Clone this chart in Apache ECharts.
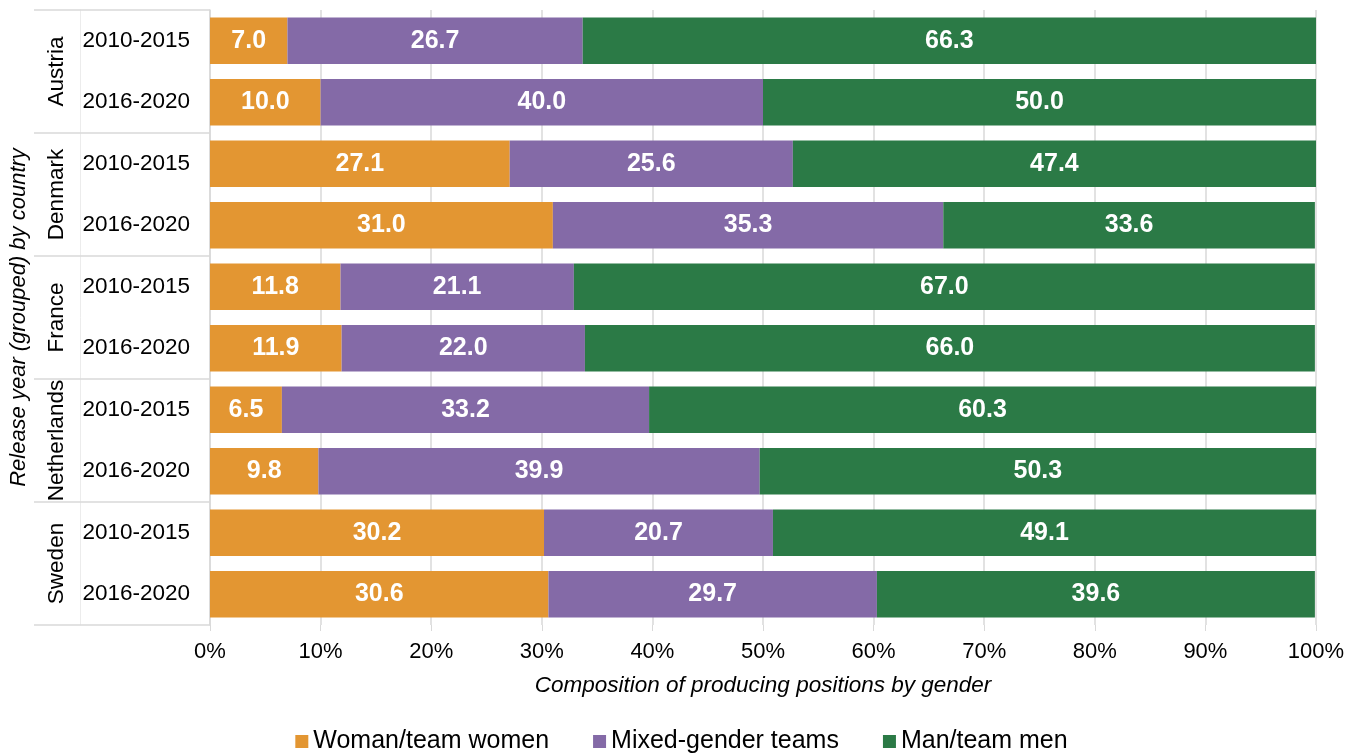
<!DOCTYPE html>
<html>
<head>
<meta charset="utf-8">
<title>Producing positions by gender</title>
<script src="https://cdn.jsdelivr.net/npm/echarts@6/dist/echarts.min.js"></script>
<style>
	html, body { margin: 0; padding: 0; background: #fff; }
	#chart { width: 1363px; height: 754px; }
</style>
</head>
<body>
<div id="chart"></div>
<script>
	// data
	var countries = ["Austria", "Denmark", "France", "Netherlands", "Sweden"];
	var periods = ["2010-2015", "2016-2020", "2010-2015", "2016-2020", "2010-2015",
		"2016-2020", "2010-2015", "2016-2020", "2010-2015", "2016-2020"];
	var women = [7.0, 10.0, 27.1, 31.0, 11.8, 11.9, 6.5, 9.8, 30.2, 30.6];
	var mixed = [26.7, 40.0, 25.6, 35.3, 21.1, 22.0, 33.2, 39.9, 20.7, 29.7];
	var men = [66.3, 50.0, 47.4, 33.6, 67.0, 66.0, 60.3, 50.3, 49.1, 39.6];
	var seriesNames = ["Woman/team women", "Mixed-gender teams", "Man/team men"];
	var colors = ["#E39632", "#846AA7", "#2B7A46"];

	var font = "Liberation Sans, Arial, sans-serif";
	var lineColor = "#d9d9d9";

	function makeSeries(name, data) {
		return {
			name: name,
			type: "bar",
			stack: "total",
			barWidth: "76%",
			data: data,
			label: {
				show: true,
				position: "inside",
				color: "#fff",
				fontWeight: "bold",
				fontSize: 25,
				fontFamily: font,
				formatter: function (p) {
					return p.value.toFixed(1);
				}
			}
		};
	}

	var option = {
		color: colors,
		animation: false,
		textStyle: { fontFamily: font },
		grid: {
			left: 210,
			right: 47,
			top: 10,
			bottom: 129
		},
		legend: {
			top: 724,
			left: "center",
			icon: "rect",
			itemWidth: 13,
			itemHeight: 13,
			itemGap: 44,
			textStyle: { fontSize: 25, color: "#000", fontFamily: font },
			data: seriesNames
		},
		xAxis: {
			type: "value",
			min: 0,
			max: 100,
			interval: 10,
			name: "Composition of producing positions by gender",
			nameLocation: "middle",
			nameGap: 49,
			nameTextStyle: { fontSize: 22.5, fontStyle: "italic", color: "#000", fontFamily: font },
			axisLine: { show: false },
			axisTick: { show: true, length: 6, lineStyle: { color: lineColor } },
			splitLine: { show: true, lineStyle: { color: lineColor, width: 1.5 } },
			axisLabel: {
				fontSize: 22,
				color: "#000",
				margin: 16,
				formatter: "{value}%"
			}
		},
		yAxis: [
			{
				type: "category",
				data: periods,
				inverse: true,
				position: "left",
				axisLine: { show: true, lineStyle: { color: lineColor, width: 1.5 } },
				axisTick: {
					show: true,
					interval: 1,
					length: 130,
					lineStyle: { color: lineColor, width: 1.5 }
				},
				axisLabel: { fontSize: 22.5, color: "#000", margin: 20 }
			},
			{
				type: "category",
				data: countries,
				inverse: true,
				position: "left",
				offset: 130,
				name: "Release year (grouped) by country",
				nameLocation: "middle",
				nameGap: 50,
				nameTextStyle: { fontSize: 22, fontStyle: "italic", color: "#000", fontFamily: font },
				axisLine: { show: true, lineStyle: { color: "#ececec", width: 1 } },
				axisTick: {
					show: true,
					interval: 0,
					length: 46,
					lineStyle: { color: lineColor, width: 1.5 }
				},
				axisLabel: {
					fontSize: 22.5,
					color: "#000",
					rotate: 90,
					margin: 12,
					interval: 0,
					hideOverlap: false
				}
			}
		],
		series: [
			makeSeries(seriesNames[0], women),
			makeSeries(seriesNames[1], mixed),
			makeSeries(seriesNames[2], men)
		]
	};

	var myChart = echarts.init(document.getElementById("chart"));
	myChart.setOption(option);
</script>
</body>
</html>
